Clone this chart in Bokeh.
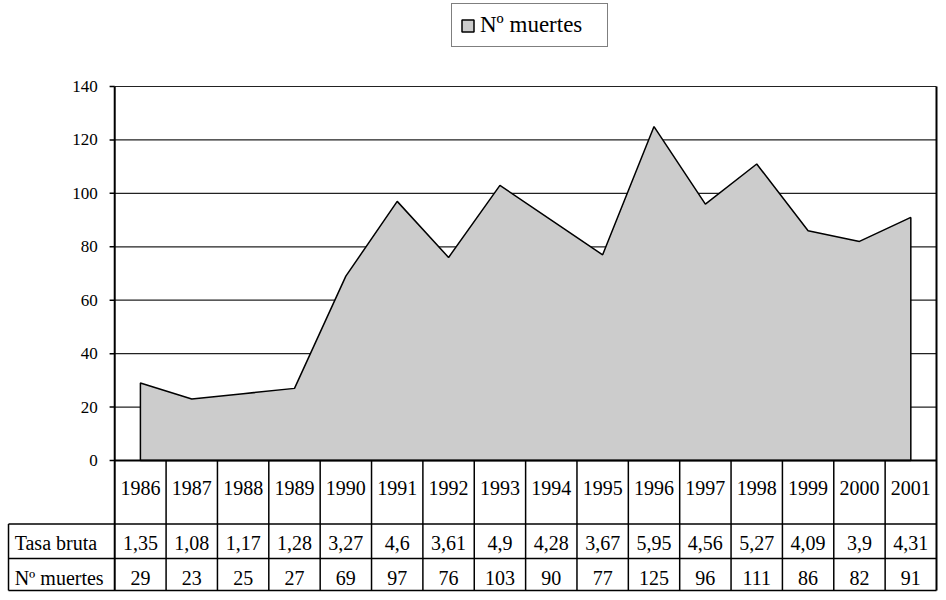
from bokeh.plotting import figure
from bokeh.models import Range1d, Legend, LegendItem
from bokeh.core.properties import value
from bokeh.embed import file_html
from bokeh.resources import INLINE

# ---- data ----
years = ["1986", "1987", "1988", "1989", "1990", "1991", "1992", "1993",
         "1994", "1995", "1996", "1997", "1998", "1999", "2000", "2001"]
muertes = [29, 23, 25, 27, 69, 97, 76, 103, 90, 77, 125, 96, 111, 86, 82, 91]
tasa_bruta = ["1,35", "1,08", "1,17", "1,28", "3,27", "4,6", "3,61", "4,9",
              "4,28", "3,67", "5,95", "4,56", "5,27", "4,09", "3,9", "4,31"]
y_ticks = [0, 20, 40, 60, 80, 100, 120, 140]
row_labels = ["Tasa bruta", "Nº muertes"]
series_name = "Nº muertes"

# ---- layout constants ----
FONT_NAME = "Liberation Serif"
FONT = value(FONT_NAME)
n = len(years)
centers = [i + 0.5 for i in range(n)]
Y_MAX = y_ticks[-1]
ROW_YEAR_BOT = -23.81
ROW_TASA_BOT = -36.68
ROW_MUERT_BOT = -48.66
LABEL_LEFT = -2.068

p = figure(width=938, height=592, output_backend="svg", toolbar_location=None,
           x_range=Range1d(-2.224, 16.039), y_range=Range1d(-49.41, 172.19),
           x_axis_location=None, y_axis_location=None, min_border=0)
p.xgrid.visible = False
p.ygrid.visible = False
p.outline_line_color = None
p.background_fill_color = "white"

# gridlines
grid_vals = y_ticks[1:]
p.segment(x0=[0] * len(grid_vals), x1=[n] * len(grid_vals), y0=grid_vals, y1=grid_vals,
          line_color="#222222", line_width=1.2)

# area
xs = [centers[0]] + centers + [centers[-1]]
ys = [0] + muertes + [0]
area = p.patch(xs, ys, fill_color="#CCCCCC", line_color="black", line_width=1.5)

# plot border / axis lines
p.segment(x0=[0, n], x1=[0, n], y0=[ROW_MUERT_BOT, ROW_MUERT_BOT], y1=[Y_MAX, Y_MAX],
          line_color="black", line_width=2)
p.segment(x0=[0], x1=[n], y0=[0], y1=[0], line_color="black", line_width=2)
# y ticks
p.segment(x0=[-0.1] * len(y_ticks), x1=[0] * len(y_ticks), y0=y_ticks, y1=y_ticks,
          line_color="black", line_width=1.5)
p.text(x=[-0.33] * len(y_ticks), y=y_ticks, text=[str(v) for v in y_ticks],
       text_font=FONT, text_font_size="17px", text_align="right",
       text_baseline="middle", text_color="black")

# table: vertical lines between categories
inner = list(range(1, n))
p.segment(x0=inner, x1=inner, y0=[0] * len(inner), y1=[ROW_MUERT_BOT] * len(inner),
          line_color="black", line_width=1.5)
p.segment(x0=[LABEL_LEFT], x1=[LABEL_LEFT], y0=[ROW_YEAR_BOT], y1=[ROW_MUERT_BOT],
          line_color="black", line_width=1.5)
hl = [ROW_YEAR_BOT, ROW_TASA_BOT, ROW_MUERT_BOT]
p.segment(x0=[LABEL_LEFT] * 3, x1=[n] * 3, y0=hl, y1=hl, line_color="black", line_width=1.5)

# table texts
y_year = -10.48
y_tasa = -31.03
y_muert = -44.1
TS = "20px"
p.text(x=centers, y=[y_year] * n, text=years, text_font=FONT, text_font_size=TS,
       text_align="center", text_baseline="middle", text_color="black")
p.text(x=centers, y=[y_tasa] * n, text=tasa_bruta, text_font=FONT, text_font_size=TS,
       text_align="center", text_baseline="middle", text_color="black")
p.text(x=centers, y=[y_muert] * n, text=[str(v) for v in muertes], text_font=FONT,
       text_font_size=TS, text_align="center", text_baseline="middle", text_color="black")
p.text(x=[LABEL_LEFT + 0.12] * 2, y=[y_tasa, y_muert], text=row_labels, text_font=FONT,
       text_font_size=TS, text_align="left", text_baseline="middle", text_color="black")

# legend
legend = Legend(items=[LegendItem(label=series_name, renderers=[area])],
                location=(451, 545), orientation="vertical",
                border_line_color="black", border_line_width=1.5,
                background_fill_color="white", background_fill_alpha=1.0,
                padding=8, margin=0, spacing=0,
                glyph_width=15, glyph_height=15, label_standoff=5,
                label_width=119, label_text_font=FONT_NAME,
                label_text_font_size="23px", label_text_color="black")
p.add_layout(legend, "center")

open("out.html", "w").write(file_html(p, INLINE))
